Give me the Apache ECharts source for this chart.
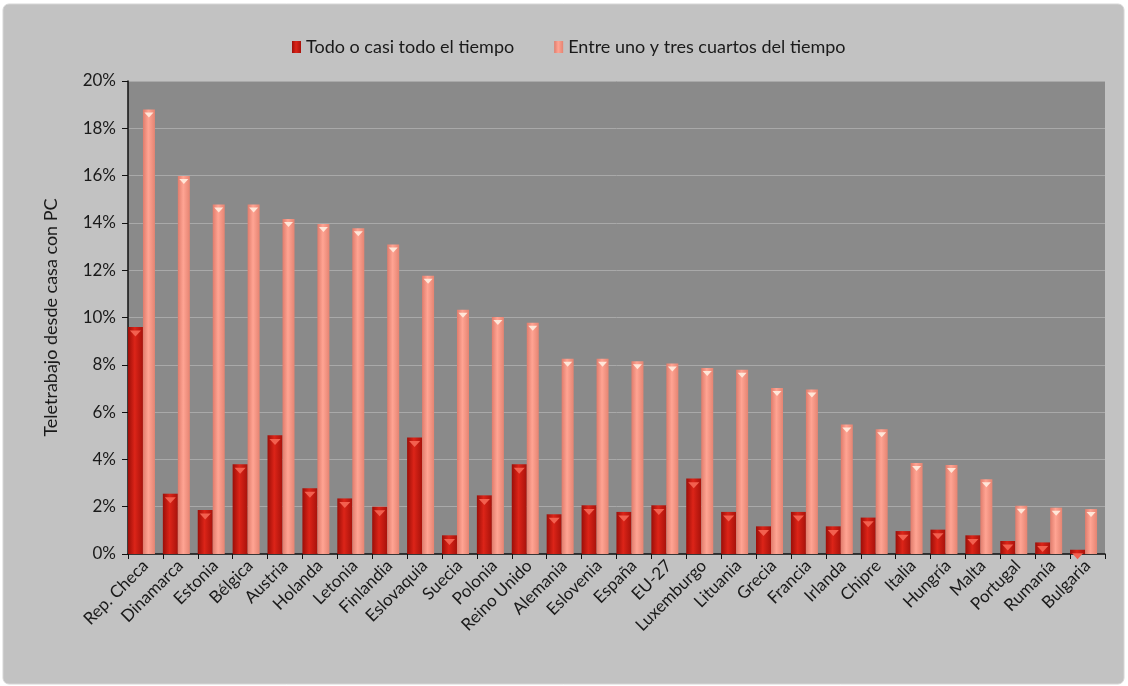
<!DOCTYPE html>
<html>
<head>
<meta charset="utf-8">
<script src="https://cdn.jsdelivr.net/npm/echarts@6/dist/echarts.min.js"></script>
<style>
html,body{margin:0;padding:0;background:#ffffff;}
#chart{width:1128px;height:686px;}
</style>
</head>
<body>
<div id="chart"></div>
<script>
const categories = ['Rep. Checa','Dinamarca','Estonia','Bélgica','Austria','Holanda','Letonia','Finlandia','Eslovaquia','Suecia','Polonia','Reino Unido','Alemania','Eslovenia','España','EU-27','Luxemburgo','Lituania','Grecia','Francia','Irlanda','Chipre','Italia','Hungría','Malta','Portugal','Rumanía','Bulgaria'];
const seriesNames = ['Todo o casi todo el tiempo','Entre uno y tres cuartos del tiempo'];
const todoValues = [9.6,2.55,1.86,3.8,5.02,2.78,2.35,2.0,4.93,0.79,2.48,3.8,1.68,2.06,1.78,2.06,3.19,1.78,1.17,1.78,1.17,1.54,0.97,1.03,0.79,0.55,0.49,0.18];
const entreValues = [18.8,15.98,14.78,14.78,14.16,13.95,13.77,13.09,11.77,10.33,10.02,9.78,8.26,8.26,8.15,8.05,7.86,7.79,7.02,6.96,5.48,5.27,3.85,3.76,3.16,2.04,1.96,1.9];
const yTicks = [0,2,4,6,8,10,12,14,16,18,20];

const chart = echarts.init(document.getElementById('chart'), null, {renderer:'canvas'});
const font = 'Lato, "Open Sans", sans-serif';
function grad(edge, mid, edge2){
  return new echarts.graphic.LinearGradient(0,0,1,0,[
    {offset:0,color:edge},{offset:0.45,color:mid},{offset:1,color:edge2}
  ]);
}
const capPath = 'path://M0,0 L10,0 L5,6 Z';
chart.setOption({
  backgroundColor:'#ffffff',
  animation:false,
  graphic:[
    {type:'rect',z:-10,shape:{x:3,y:4,width:1121,height:680,r:6},style:{fill:'#c2c2c2',stroke:'#d6d6d6',lineWidth:1}}
  ],
  legend:{
    data:seriesNames,
    top:33,
    left:287,
    itemWidth:9,
    itemHeight:12,
    itemGap:40,
    icon:'rect',
    textStyle:{fontFamily:font,fontSize:18,color:'#1a1a1a'}
  },
  grid:{left:128,right:23,top:81,bottom:132,show:true,backgroundColor:'#8a8a8a',borderWidth:0},
  xAxis:{
    type:'category',
    data:categories,
    axisLine:{lineStyle:{color:'#111',width:1.5}},
    axisTick:{show:true,length:5,lineStyle:{color:'#111'}},
    axisLabel:{rotate:45,interval:0,fontFamily:font,fontSize:17,color:'#1a1a1a',margin:9},
    splitLine:{show:false}
  },
  yAxis:{
    type:'value',
    min:yTicks[0],max:yTicks[yTicks.length-1],interval:2,
    name:'Teletrabajo desde casa con PC',
    nameLocation:'middle',
    nameGap:68,
    nameTextStyle:{fontFamily:font,fontSize:18,color:'#1a1a1a'},
    axisLine:{show:true,lineStyle:{color:'#111',width:1.5}},
    axisTick:{show:true,length:6,lineStyle:{color:'#111'}},
    axisLabel:{formatter:'{value}%',fontFamily:font,fontSize:17,color:'#1a1a1a',margin:12},
    splitLine:{show:true,lineStyle:{color:'#a9a9a9',width:1}}
  },
  series:[
    {name:seriesNames[0],type:'bar',data:todoValues,barWidth:15,barGap:'0%',
     itemStyle:{color:grad('#9c0e08','#dc2418','#a8120b')}},
    {name:seriesNames[1],type:'bar',data:entreValues,barWidth:12,barGap:'0%',
     itemStyle:{color:grad('#e07c6c','#ffa493','#e58472')}},
    {name:'_spacer',type:'bar',data:[],barWidth:8,barGap:'0%'},
    {name:'_cap1',type:'pictorialBar',data:todoValues,barWidth:15,barGap:'0%',symbol:capPath,
     symbolSize:[11,6],symbolPosition:'end',symbolOffset:[0,'60%'],z:5,itemStyle:{color:'#f2604f'}},
    {name:'_cap2',type:'pictorialBar',data:entreValues,barWidth:12,barGap:'0%',symbol:capPath,
     symbolSize:[9,5],symbolPosition:'end',symbolOffset:[0,'60%'],z:5,itemStyle:{color:'#ffe6d8'}},
    {name:'_cap3',type:'pictorialBar',data:[],barWidth:8,barGap:'0%',symbol:'rect'}
  ]
});
</script>
</body>
</html>
